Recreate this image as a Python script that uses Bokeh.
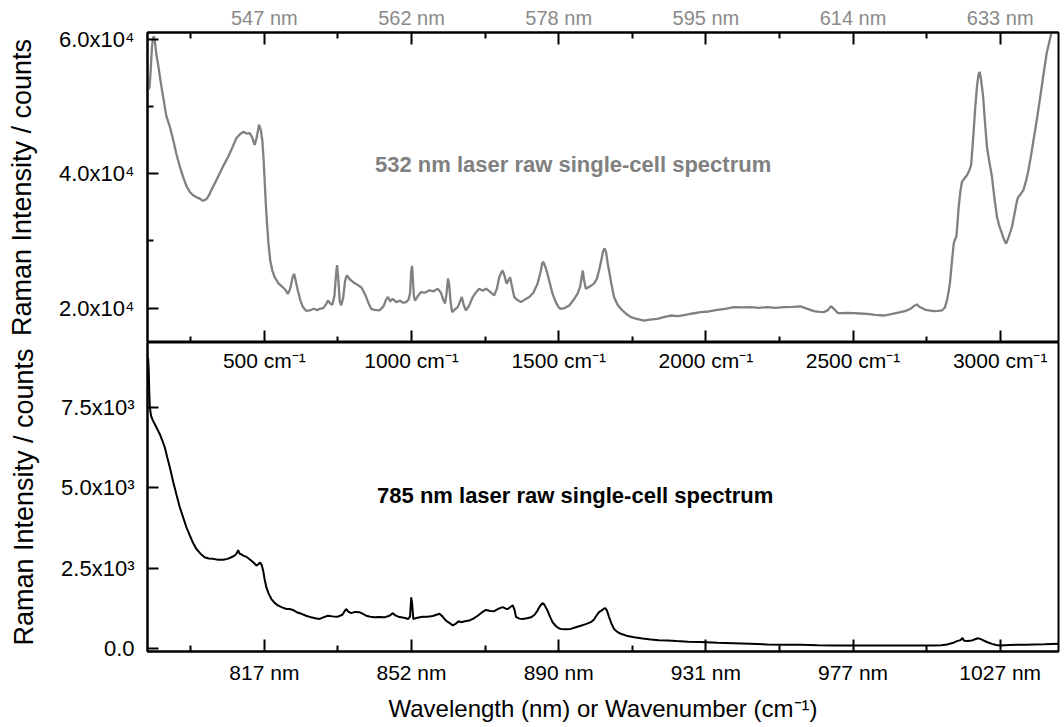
from bokeh.plotting import figure
from bokeh.layouts import column
from bokeh.models import LinearAxis, FixedTicker, Range1d, Label
from bokeh.embed import file_html
from bokeh.resources import INLINE

FONT = "Liberation Sans"
TICK_COLOR = "black"

# ---------------- data ----------------
top_wn = [103, 107, 110, 114, 118, 122, 125, 128, 133, 139, 147, 156, 167, 179, 190, 201, 212, 224, 235, 247,
          258, 270, 281, 290, 298, 306, 313, 320, 334, 348, 362, 377, 391, 405, 417, 428, 440, 450, 458, 467,
          474, 482, 488, 493, 497, 501, 505, 509, 514, 520, 527, 535, 548, 563, 572, 580, 588, 596, 601, 606,
          614, 622, 631, 642, 654, 668, 680, 688, 700, 710, 716, 724, 731, 738, 744, 747, 751, 756, 761, 768,
          774, 780, 790, 801, 815, 829, 838, 846, 855, 863, 875, 891, 905, 914, 920, 928, 936, 948, 960, 972,
          982, 990, 995, 999, 1002, 1005, 1008, 1012, 1020, 1032, 1045, 1061, 1075, 1089, 1100, 1108, 1114, 1119, 1124, 1128,
          1133, 1138, 1147, 1157, 1165, 1171, 1177, 1185, 1195, 1208, 1218, 1230, 1242, 1253, 1265, 1281, 1290, 1298, 1305, 1310,
          1316, 1323, 1330, 1335, 1340, 1349, 1360, 1372, 1385, 1400, 1414, 1428, 1438, 1444, 1448, 1455, 1462, 1470, 1479, 1490,
          1500, 1507, 1520, 1536, 1550, 1564, 1573, 1578, 1582, 1586, 1592, 1605, 1620, 1630, 1637, 1645, 1651, 1656, 1661, 1666,
          1671, 1679, 1688, 1700, 1711, 1728, 1745, 1765, 1790, 1810, 1835, 1860, 1881, 1905, 1926, 1955, 1982, 2010, 2039, 2065,
          2095, 2125, 2152, 2180, 2209, 2237, 2265, 2295, 2322, 2345, 2367, 2385, 2401, 2415, 2425, 2435, 2447, 2457, 2480, 2502,
          2525, 2548, 2575, 2604, 2630, 2661, 2680, 2695, 2710, 2717, 2725, 2746, 2774, 2790, 2802, 2812, 2819, 2825, 2830, 2836,
          2842, 2847, 2851, 2855, 2859, 2865, 2870, 2878, 2887, 2895, 2901, 2905, 2910, 2915, 2921, 2926, 2930, 2935, 2942, 2948,
          2955, 2963, 2972, 2980, 2989, 2997, 3006, 3013, 3020, 3028, 3034, 3040, 3050, 3057, 3062, 3070, 3079, 3088, 3096, 3105,
          3113, 3125, 3136, 3147, 3158, 3167, 3175, 3186, 3198]
top_counts = [53000, 52600, 52900, 55500, 58800, 60300, 60450, 59800, 57800, 56300, 53900, 51500, 48600, 47000, 45100, 43000, 41200, 39550, 38200, 37300,
              36800, 36500, 36300, 36000, 36100, 36400, 36900, 37600, 38800, 40050, 41300, 42550, 43900, 45300, 45900, 46250, 46000, 46050, 45500, 44300,
              45400, 47300, 46500, 45000, 42500, 39000, 35500, 32600, 29600, 27100, 25600, 24600, 23700, 23100, 22700, 22100, 22900, 24600, 25100, 24200,
              22600, 21200, 20150, 19600, 19650, 19900, 19700, 19900, 20000, 20600, 21150, 20700, 20500, 21800, 25200, 26400, 24500, 21000, 20400, 21600,
              24000, 24900, 24300, 23900, 23500, 23100, 22400, 21650, 20600, 19900, 19750, 19650, 20300, 21300, 21650, 21000, 21400, 20900, 21100, 20800,
              20900, 21300, 22200, 25500, 26300, 24000, 21800, 21100, 21700, 22400, 22300, 22650, 22500, 22900, 22300, 21200, 20700, 22200, 24400, 23500,
              20800, 19400, 19800, 20150, 21000, 21650, 20500, 19650, 20300, 21650, 22300, 22900, 22600, 22900, 22500, 21900, 22900, 24600, 25300, 25600,
              24800, 23650, 24200, 24600, 23500, 21650, 21200, 20900, 21300, 21650, 22300, 23650, 25300, 26700, 26900, 26100, 25100, 23700, 22150, 20900,
              20100, 19900, 20000, 20400, 21200, 22150, 23200, 24600, 25600, 24200, 22900, 23200, 23650, 24400, 25600, 27200, 28500, 28900, 28300, 26800,
              25600, 23600, 21650, 20500, 19900, 19200, 18650, 18400, 18150, 18300, 18400, 18700, 18900, 18800, 18950, 19200, 19400, 19500, 19750, 19900,
              20150, 20100, 20150, 20050, 20150, 20050, 20150, 20200, 20250, 19900, 19550, 19450, 19400, 19700, 20300, 19900, 19300, 19250, 19300, 19250,
              19200, 19150, 19000, 18900, 19100, 19400, 19600, 19900, 20400, 20550, 20200, 19750, 19550, 19600, 19650, 20100, 21150, 22500, 24100, 27000,
              29600, 30300, 30600, 32800, 35100, 37500, 38800, 39300, 39800, 40500, 41300, 43500, 46500, 49800, 53000, 54700, 55200, 54000, 51500, 47800,
              44000, 41800, 39550, 36500, 33600, 32200, 31100, 30200, 29600, 30500, 31300, 32100, 34400, 36000, 36600, 37000, 37600, 39000, 40550, 42800,
              45000, 48200, 51500, 54800, 58000, 59700, 61200, 63200, 65000]

bot_wn = [103, 105, 107, 109, 111, 115, 121, 128, 136, 145, 153, 162, 170, 179, 190, 201, 212, 224, 235, 247,
          258, 269, 283, 297, 311, 326, 343, 360, 375, 388, 400, 406, 411, 416, 422, 428, 440, 456, 465, 473,
          480, 486, 491, 496, 501, 507, 515, 524, 535, 546, 560, 575, 586, 597, 610, 626, 642, 659, 673, 688,
          700, 716, 733, 750, 765, 774, 778, 785, 795, 808, 823, 835, 846, 860, 874, 890, 908, 925, 937, 945,
          955, 965, 978, 989, 995, 999, 1002, 1006, 1020, 1038, 1055, 1072, 1085, 1095, 1105, 1117, 1128, 1140, 1150, 1160,
          1168, 1182, 1196, 1210, 1225, 1240, 1253, 1268, 1281, 1296, 1310, 1320, 1327, 1337, 1344, 1350, 1355, 1366, 1378, 1392,
          1406, 1418, 1428, 1437, 1445, 1450, 1456, 1462, 1470, 1479, 1490, 1500, 1507, 1525, 1541, 1558, 1575, 1592, 1609, 1620,
          1630, 1637, 1645, 1652, 1658, 1664, 1671, 1679, 1688, 1700, 1711, 1730, 1756, 1785, 1813, 1840, 1869, 1900, 1940, 1982,
          2040, 2095, 2150, 2209, 2265, 2322, 2380, 2434, 2490, 2548, 2600, 2661, 2720, 2774, 2800, 2819, 2838, 2853, 2865, 2872,
          2877, 2890, 2904, 2915, 2924, 2932, 2943, 2957, 2972, 2986, 3000, 3030, 3057, 3090, 3113, 3150, 3198]
bot_counts = [8950, 9050, 8700, 8000, 7500, 7250, 7100, 6980, 6830, 6670, 6480, 6250, 5950, 5630, 5200, 4800, 4420, 4080, 3780, 3510,
              3280, 3100, 2950, 2840, 2800, 2790, 2760, 2760, 2790, 2840, 2900, 2960, 3060, 2950, 2930, 2890, 2850, 2730, 2660, 2580,
              2630, 2680, 2600, 2420, 2150, 1900, 1700, 1540, 1420, 1340, 1280, 1230, 1230, 1200, 1130, 1080, 1020, 970, 940, 920,
              970, 1020, 1000, 990, 1050, 1180, 1230, 1150, 1100, 1140, 1130, 1080, 1020, 990, 970, 980, 970, 1020, 1100, 1030,
              990, 970, 950, 920, 1000, 1590, 1400, 920, 960, 990, 990, 1010, 1050, 1080, 1000, 870, 800, 720, 770, 850,
              820, 850, 870, 930, 1020, 1130, 1200, 1170, 1160, 1240, 1290, 1240, 1230, 1300, 1340, 1200, 980, 930, 920, 940,
              970, 1050, 1180, 1330, 1410, 1380, 1280, 1180, 1000, 820, 700, 630, 610, 600, 610, 660, 710, 760, 820, 900,
              1050, 1130, 1180, 1230, 1260, 1180, 980, 780, 610, 510, 460, 400, 350, 310, 280, 260, 250, 230, 210, 200,
              180, 165, 145, 125, 120, 115, 100, 95, 95, 92, 95, 92, 93, 95, 105, 125, 170, 230, 260, 330,
              240, 235, 250, 290, 320, 300, 250, 195, 145, 110, 95, 110, 120, 115, 125, 130, 150]

wn_ticks = [500, 1000, 1500, 2000, 2500, 3000]
wn_minor = [250, 750, 1250, 1750, 2250, 2750]
wn_labels = ["500 cm\u207b\u00b9", "1000 cm\u207b\u00b9", "1500 cm\u207b\u00b9",
             "2000 cm\u207b\u00b9", "2500 cm\u207b\u00b9", "3000 cm\u207b\u00b9"]
nm532_labels = ["547 nm", "562 nm", "578 nm", "595 nm", "614 nm", "633 nm"]
nm785_labels = ["817 nm", "852 nm", "890 nm", "931 nm", "977 nm", "1027 nm"]

top_yticks = [20000, 40000, 60000]
top_yminor = [30000, 50000]
top_ylabels = ["2.0x10\u2074", "4.0x10\u2074", "6.0x10\u2074"]
bot_yticks = [0, 2500, 5000, 7500]
bot_ylabels = ["0.0", "2.5x10\u00b3", "5.0x10\u00b3", "7.5x10\u00b3"]

GRAY = "#808080"
TOP_Y = (14880, 61050)
BOT_Y = (-93, 9523)

x_range = Range1d(103, 3198)


def style_axis(ax, size="21px"):
    ax.major_tick_out = 0
    ax.minor_tick_out = 0
    ax.major_tick_in = 12
    ax.minor_tick_in = 6
    ax.major_tick_line_color = TICK_COLOR
    ax.minor_tick_line_color = TICK_COLOR
    ax.major_tick_line_width = 2
    ax.minor_tick_line_width = 2
    ax.axis_line_width = 2
    ax.major_label_text_font = FONT
    ax.major_label_text_font_size = size
    ax.major_label_text_color = "black"
    ax.axis_label_text_font = FONT
    ax.axis_label_text_font_size = "24px"
    ax.axis_label_text_font_style = "normal"
    ax.axis_label_text_color = "black"


# ---------------- top panel ----------------
top = figure(width=1064, height=342, x_range=x_range, y_range=Range1d(*TOP_Y),
             output_backend="svg", toolbar_location=None,
             x_axis_location=None, y_axis_location=None,
             min_border_left=147, min_border_right=6, min_border_top=32, min_border_bottom=0)
top.grid.visible = False
top.outline_line_color = "black"
top.outline_line_width = 2
top.line(top_wn, top_counts, line_color=GRAY, line_width=2.3)

ly = LinearAxis(ticker=FixedTicker(ticks=top_yticks, minor_ticks=top_yminor),
                major_label_overrides=dict(zip(top_yticks, top_ylabels)),
                axis_label="Raman Intensity / counts")
style_axis(ly, "22px")
ly.major_tick_in = 11
ly.major_label_standoff = 13
ly.axis_label_standoff = 19
ly.axis_label_text_font_size = "27px"
top.add_layout(ly, "left")

ta = LinearAxis(ticker=FixedTicker(ticks=wn_ticks, minor_ticks=wn_minor),
                major_label_overrides=dict(zip(wn_ticks, nm532_labels)))
style_axis(ta, "20px")
ta.major_label_text_color = "#8a8a8a"
ta.major_label_standoff = 4
top.add_layout(ta, "above")

tb = LinearAxis(ticker=FixedTicker(ticks=wn_ticks, minor_ticks=wn_minor),
                fixed_location=TOP_Y[0])
style_axis(tb)
tb.major_label_text_color = None
top.add_layout(tb, "below")

top.add_layout(Label(x=876, y=41450, text="532 nm laser raw single-cell spectrum",
                     text_font=FONT, text_font_size="22px", text_font_style="bold",
                     text_color=GRAY, text_baseline="alphabetic"))

# ---------------- bottom panel ----------------
bot = figure(width=1064, height=385, x_range=x_range, y_range=Range1d(*BOT_Y),
             output_backend="svg", toolbar_location=None,
             x_axis_location=None, y_axis_location=None,
             min_border_left=147, min_border_right=6, min_border_top=0, min_border_bottom=76)
bot.grid.visible = False
bot.outline_line_color = "black"
bot.outline_line_width = 2
bot.line(bot_wn, bot_counts, line_color="black", line_width=2)

by = LinearAxis(ticker=FixedTicker(ticks=bot_yticks, minor_ticks=[]),
                major_label_overrides=dict(zip(bot_yticks, bot_ylabels)),
                axis_label="Raman Intensity / counts")
style_axis(by, "22px")
by.major_tick_in = 11
by.major_label_standoff = 13
by.axis_label_standoff = 19
by.axis_label_text_font_size = "27px"
bot.add_layout(by, "left")

bx = LinearAxis(ticker=FixedTicker(ticks=wn_ticks, minor_ticks=wn_minor),
                major_label_overrides=dict(zip(wn_ticks, nm785_labels)),
                axis_label="Wavelength (nm) or Wavenumber (cm\u207b\u00b9)")
style_axis(bx)
bx.major_label_standoff = 9
bx.axis_label_standoff = 8
bot.add_layout(bx, "below")

mx = LinearAxis(ticker=FixedTicker(ticks=wn_ticks, minor_ticks=[]),
                major_label_overrides=dict(zip(wn_ticks, wn_labels)),
                fixed_location=BOT_Y[1])
style_axis(mx)
mx.major_tick_in = 0
mx.axis_line_color = None
mx.major_tick_line_color = None
mx.minor_tick_line_color = None
mx.major_label_standoff = 6
bot.add_layout(mx, "below")

bot.add_layout(Label(x=883, y=4752, text="785 nm laser raw single-cell spectrum",
                     text_font=FONT, text_font_size="22px", text_font_style="bold",
                     text_color="black", text_baseline="alphabetic"))

layout = column(top, bot, spacing=0)
open("out.html", "w").write(file_html(layout, INLINE))
